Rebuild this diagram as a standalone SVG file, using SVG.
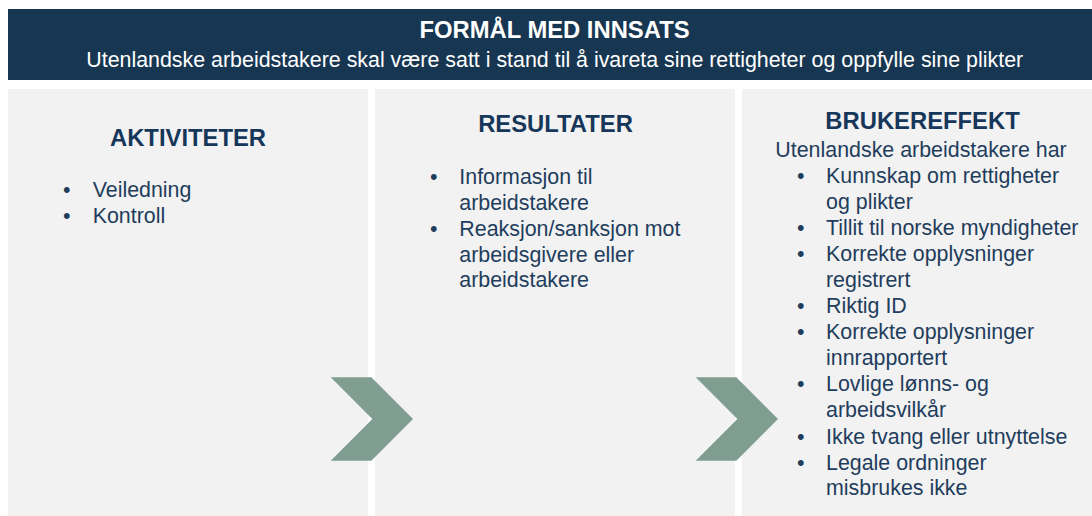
<svg xmlns="http://www.w3.org/2000/svg" xmlns:xlink="http://www.w3.org/1999/xlink" width="1092" height="516" viewBox="0 0 1092 516">
  <style>
    .panel { fill: #F2F2F2; }
    .title { font-family: "Liberation Sans", Arial, sans-serif; font-weight: bold; font-size: 23.8px; fill: #17375A; text-anchor: middle; }
    .body { font-family: "Liberation Sans", Arial, sans-serif; font-size: 21.4px; fill: #1F3D5C; }
    .mid { text-anchor: middle; }
    .htitle { font-family: "Liberation Sans", Arial, sans-serif; font-weight: bold; font-size: 23.8px; fill: #FFFFFF; text-anchor: middle; }
    .hsub { font-family: "Liberation Sans", Arial, sans-serif; font-size: 21.4px; fill: #FFFFFF; text-anchor: middle; }
    .chev { fill: #7F9E91; }
  </style>
  <defs>
    <polygon id="chevron" points="0,0 40.6,0 82.3,41.7 40.6,83.4 0,83.4 41.7,41.7"/>
  </defs>
  <rect width="1092" height="516" fill="#FFFFFF"/>

  <g id="header">
    <rect x="8" y="9" width="1084" height="71" fill="#173651"/>
    <text class="htitle" x="554.5" y="38">FORMÅL MED INNSATS</text>
    <text class="hsub" x="554.7" y="66.7">Utenlandske arbeidstakere skal være satt i stand til å ivareta sine rettigheter og oppfylle sine plikter</text>
  </g>

  <g id="aktiviteter">
    <rect class="panel" x="8" y="89" width="360" height="427"/>
    <text class="title" x="188" y="145.7">AKTIVITETER</text>
    <text class="body" x="63" y="197">•</text>
    <text class="body" x="92.7" y="197">Veiledning</text>
    <text class="body" x="63" y="223">•</text>
    <text class="body" x="92.7" y="223">Kontroll</text>
  </g>

  <g id="resultater">
    <rect class="panel" x="375" y="89" width="360" height="427"/>
    <text class="title" x="555.5" y="131.7">RESULTATER</text>
    <text class="body" x="430" y="184.3">•</text>
    <text class="body" x="459.3" y="184.3">Informasjon til</text>
    <text class="body" x="459.3" y="210">arbeidstakere</text>
    <text class="body" x="430" y="236">•</text>
    <text class="body" x="459.3" y="236">Reaksjon/sanksjon mot</text>
    <text class="body" x="459.3" y="261.8">arbeidsgivere eller</text>
    <text class="body" x="459.3" y="287">arbeidstakere</text>
  </g>

  <g id="brukereffekt">
    <rect class="panel" x="742" y="89" width="350" height="427"/>
    <text class="title" x="922.5" y="129.3">BRUKEREFFEKT</text>
    <text class="body mid" x="921" y="156.7">Utenlandske arbeidstakere har</text>
    <text class="body" x="797" y="182.7">•</text>
    <text class="body" x="826" y="182.7">Kunnskap om rettigheter</text>
    <text class="body" x="826" y="208.7">og plikter</text>
    <text class="body" x="797" y="234.7">•</text>
    <text class="body" x="826" y="234.7">Tillit til norske myndigheter</text>
    <text class="body" x="797" y="260.7">•</text>
    <text class="body" x="826" y="260.7">Korrekte opplysninger</text>
    <text class="body" x="826" y="286.7">registrert</text>
    <text class="body" x="797" y="312.9">•</text>
    <text class="body" x="826" y="312.9">Riktig ID</text>
    <text class="body" x="797" y="339">•</text>
    <text class="body" x="826" y="339">Korrekte opplysninger</text>
    <text class="body" x="826" y="365">innrapportert</text>
    <text class="body" x="797" y="391.3">•</text>
    <text class="body" x="826" y="391.3">Lovlige lønns- og</text>
    <text class="body" x="826" y="417">arbeidsvilkår</text>
    <text class="body" x="797" y="443.8">•</text>
    <text class="body" x="826" y="443.8">Ikke tvang eller utnyttelse</text>
    <text class="body" x="797" y="469.7">•</text>
    <text class="body" x="826" y="469.7">Legale ordninger</text>
    <text class="body" x="826" y="495.2">misbrukes ikke</text>
  </g>

  <g id="connectors">
    <use xlink:href="#chevron" class="chev" x="330.7" y="377.3"/>
    <use xlink:href="#chevron" class="chev" x="695.7" y="377.3"/>
  </g>
</svg>
